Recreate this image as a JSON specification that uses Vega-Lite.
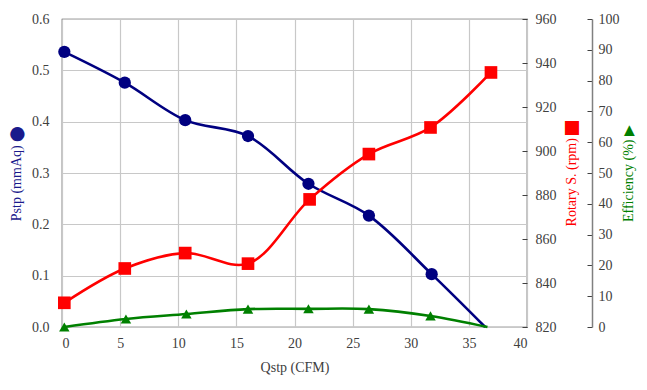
{
  "$schema": "https://vega.github.io/schema/vega-lite/v6.json",
  "width": 465,
  "height": 308,
  "autosize": "none",
  "padding": {"left": 62, "top": 19, "right": 120, "bottom": 63},
  "background": "white",
  "config": {
    "font": "Liberation Serif",
    "view": {"stroke": "#404040", "strokeWidth": 1.2},
    "axis": {
      "labelFont": "Liberation Serif",
      "titleFont": "Liberation Serif",
      "labelFontSize": 14,
      "titleFontSize": 14,
      "titleFontWeight": "normal",
      "labelColor": "#404040",
      "titleColor": "#404040",
      "domainColor": "#404040",
      "tickColor": "#404040",
      "gridColor": "#c8c8c8",
      "gridWidth": 1.2
    }
  },
  "datasets": {
    "pstp": [
      {"q": 0.2, "v": 0.536},
      {"q": 5.4, "v": 0.476},
      {"q": 10.6, "v": 0.403},
      {"q": 16.0, "v": 0.372},
      {"q": 21.2, "v": 0.279},
      {"q": 26.4, "v": 0.217},
      {"q": 31.8, "v": 0.103},
      {"q": 36.4, "v": 0.0}
    ],
    "rpm": [
      {"q": 0.2, "v": 831.0},
      {"q": 5.4, "v": 846.6},
      {"q": 10.6, "v": 853.6},
      {"q": 16.0, "v": 848.8},
      {"q": 21.3, "v": 878.0},
      {"q": 26.4, "v": 898.6},
      {"q": 31.7, "v": 910.7},
      {"q": 36.9, "v": 935.7}
    ],
    "eff": [
      {"q": 0.2, "v": 0.0},
      {"q": 5.5, "v": 2.6},
      {"q": 10.7, "v": 4.2},
      {"q": 16.0, "v": 5.8},
      {"q": 21.2, "v": 5.9},
      {"q": 26.4, "v": 5.8},
      {"q": 31.7, "v": 3.6},
      {"q": 36.6, "v": 0.0}
    ]
  },
  "encoding": {
    "x": {
      "field": "q",
      "type": "quantitative",
      "scale": {"domain": [0, 40], "nice": false, "zero": false},
      "axis": {
        "title": "Qstp (CFM)",
        "labelFont": "Liberation Serif",
        "titleFont": "Liberation Serif",
        "values": [0, 5, 10, 15, 20, 25, 30, 35, 40],
        "format": "d",
        "grid": true,
        "ticks": false,
        "domain": false,
        "labelPadding": 9,
        "titlePadding": 10
      }
    }
  },
  "layer": [
    {
      "data": {"name": "pstp"},
      "encoding": {
        "y": {
          "field": "v",
          "type": "quantitative",
          "scale": {"domain": [0, 0.6], "nice": false},
          "axis": {
            "orient": "left",
            "title": "Pstp (mmAq) ⬤",
            "labelFont": "Liberation Serif",
            "titleFont": "Liberation Serif",
            "titleColor": "#1a1a8c",
            "values": [0, 0.1, 0.2, 0.3, 0.4, 0.5, 0.6],
            "format": ".1f",
            "grid": true,
            "ticks": false,
            "domain": false,
            "labelPadding": 13,
            "titlePadding": 8
          }
        }
      },
      "layer": [
        {"mark": {"type": "line", "color": "#000080", "strokeWidth": 2.6, "interpolate": "catmull-rom"}},
        {
          "transform": [{"filter": "datum.q < 36"}],
          "mark": {"type": "point", "shape": "circle", "filled": true, "opacity": 1, "color": "#000080", "size": 150}
        }
      ]
    },
    {
      "data": {"name": "rpm"},
      "encoding": {
        "y": {
          "field": "v",
          "type": "quantitative",
          "scale": {"domain": [820, 960], "nice": false, "zero": false},
          "axis": {
            "orient": "right",
            "title": "Rotary S. (rpm) ⬛︎",
            "labelFont": "Liberation Serif",
            "titleFont": "Liberation Serif",
            "titleColor": "#ff0000",
            "titleAngle": 270,
            "values": [820, 840, 860, 880, 900, 920, 940, 960],
            "grid": false,
            "ticks": true,
            "tickSize": -5,
            "domain": false,
            "labelPadding": 13,
            "titlePadding": 22
          }
        }
      },
      "layer": [
        {"mark": {"type": "line", "color": "#ff0000", "strokeWidth": 2.6, "interpolate": "catmull-rom"}},
        {"mark": {"type": "point", "shape": "square", "filled": true, "opacity": 1, "color": "#ff0000", "size": 160}}
      ]
    },
    {
      "data": {"name": "eff"},
      "encoding": {
        "y": {
          "field": "v",
          "type": "quantitative",
          "scale": {"domain": [0, 100], "nice": false},
          "axis": {
            "orient": "right",
            "offset": 65,
            "title": "Efficiency (%) ▶",
            "labelFont": "Liberation Serif",
            "titleFont": "Liberation Serif",
            "titleColor": "#008000",
            "titleAngle": 270,
            "values": [0, 10, 20, 30, 40, 50, 60, 70, 80, 90, 100],
            "grid": false,
            "ticks": true,
            "tickSize": -5,
            "domain": true,
            "domainColor": "#808080",
            "domainWidth": 1.5,
            "tickColor": "#404040",
            "labelPadding": 11,
            "titlePadding": 16
          }
        }
      },
      "layer": [
        {"mark": {"type": "line", "color": "#008000", "strokeWidth": 2.6, "interpolate": "catmull-rom"}},
        {
          "transform": [{"filter": "datum.q < 36"}],
          "mark": {"type": "point", "shape": "triangle-up", "filled": true, "opacity": 1, "color": "#008000", "size": 110}
        }
      ]
    }
  ],
  "resolve": {"scale": {"y": "independent"}}
}
